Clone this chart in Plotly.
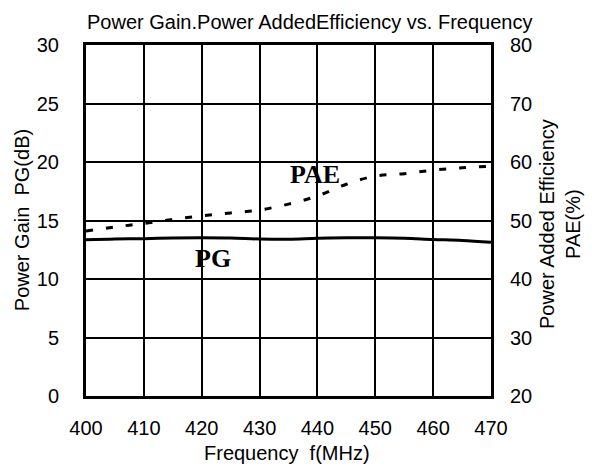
import plotly.graph_objects as go

freq = [400, 405, 410, 415, 420, 425, 430, 435, 440, 445, 450, 455, 460, 465, 470]
pg_db = [13.35, 13.42, 13.45, 13.5, 13.52, 13.5, 13.42, 13.4, 13.48, 13.52, 13.52, 13.48, 13.38, 13.3, 13.15]
pae_pct = [48.2, 48.9, 49.5, 50.2, 50.8, 51.3, 51.8, 52.8, 54.2, 56.2, 57.6, 58.0, 58.6, 59.0, 59.3]

x_ticks = [400, 410, 420, 430, 440, 450, 460, 470]
pg_ticks = [0, 5, 10, 15, 20, 25, 30]
pae_ticks = [20, 30, 40, 50, 60, 70, 80]

title_text = "Power Gain.Power AddedEfficiency vs. Frequency"
x_title = "Frequency  f(MHz)"
y_title = "Power Gain  PG(dB)"
y2_title = "Power Added Efficiency<br>PAE(%)"

SANS = "Liberation Sans, Arial, sans-serif"
SERIF = "Liberation Serif, Times New Roman, serif"
FS = 20

fig = go.Figure()
fig.add_trace(go.Scatter(x=freq, y=pg_db, mode="lines", line=dict(color="black", width=3, shape="spline"),
                         yaxis="y", showlegend=False, hoverinfo="skip"))
fig.add_trace(go.Scatter(x=freq, y=pae_pct, mode="lines", line=dict(color="black", width=3, dash="7px,13px", shape="spline"),
                         yaxis="y2", showlegend=False, hoverinfo="skip"))

fig.update_layout(
    width=592, height=468,
    margin=dict(l=86, r=101, t=45, b=72),
    paper_bgcolor="white", plot_bgcolor="white",
    font=dict(family=SANS, size=FS, color="black"),
    xaxis=dict(range=[400, 470], tickvals=x_ticks, showgrid=True, gridcolor="black", gridwidth=1.5,
               showline=True, linecolor="black", linewidth=3, mirror=True, zeroline=False,
               ticks="outside", ticklen=0, ticklabelstandoff=12,
               tickfont=dict(family=SANS, size=FS)),
    yaxis=dict(range=[0, 30], tickvals=pg_ticks, showgrid=True, gridcolor="black", gridwidth=1.5,
               showline=True, linecolor="black", linewidth=3, mirror=True, zeroline=False,
               ticks="outside", ticklen=0, ticklabelstandoff=20,
               tickfont=dict(family=SANS, size=FS)),
    yaxis2=dict(range=[20, 80], tickvals=pae_ticks, overlaying="y", side="right", showgrid=False,
                showline=False, zeroline=False, ticks="outside", ticklen=0, ticklabelstandoff=14,
                tickfont=dict(family=SANS, size=FS)),
    annotations=[
        dict(text=title_text, xref="paper", yref="paper", x=0.553, y=1.066, showarrow=False,
             xanchor="center", yanchor="middle", font=dict(family=SANS, size=20)),
        dict(text=x_title, xref="paper", yref="paper", x=0.496, y=-0.162, showarrow=False,
             xanchor="center", yanchor="middle", font=dict(family=SANS, size=FS)),
        dict(text=y_title, xref="paper", yref="paper", x=-0.158, y=0.501, showarrow=False, textangle=-90,
             xanchor="center", yanchor="middle", font=dict(family=SANS, size=FS)),
        dict(text=y2_title, xref="paper", yref="paper", x=(560 - 86) / 405, y=(396 - 224) / 351, showarrow=False,
             textangle=-90, xanchor="center", yanchor="middle", font=dict(family=SANS, size=FS)),
        dict(text="<b>PAE</b>", xref="x", yref="y", x=439.6, y=18.93, showarrow=False,
             xanchor="center", yanchor="middle", font=dict(family=SERIF, size=26)),
        dict(text="<b>PG</b>", xref="x", yref="y", x=422.0, y=11.71, showarrow=False,
             xanchor="center", yanchor="middle", font=dict(family=SERIF, size=26)),
    ],
)

fig.write_html("out.html", config={"displayModeBar": False},
               post_script="document.body.style.margin='0px';")
